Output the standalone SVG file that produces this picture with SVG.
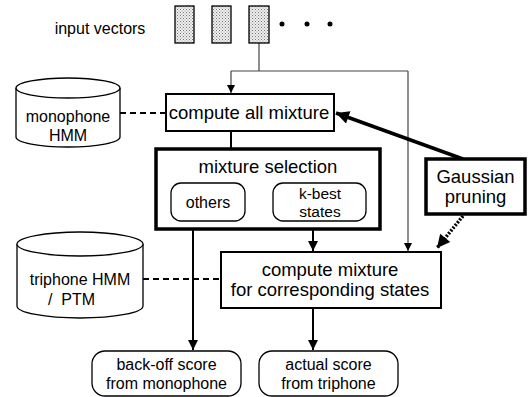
<svg xmlns="http://www.w3.org/2000/svg" width="529" height="397" viewBox="0 0 529 397">
<style>
text{font-family:"Liberation Sans",Arial,sans-serif;fill:#000;text-anchor:middle}
.s16{font-size:16px}
.s15{font-size:15.5px}
.s18{font-size:18.5px}
.box{fill:#fff;stroke:#000;stroke-width:2}
.thick{fill:#fff;stroke:#000;stroke-width:3.5}
.rnd{fill:#fff;stroke:#000;stroke-width:1.3}
.vec{fill:url(#dots);stroke:#000;stroke-width:1.3}
.thin{fill:none;stroke:#444;stroke-width:1.2}
.med{fill:none;stroke:#000;stroke-width:2}
.dash{fill:none;stroke:#000;stroke-width:2;stroke-dasharray:6 4}
.cyl{fill:#fff;stroke:#000;stroke-width:1.3}
</style>
<defs>
<pattern id="dots" width="3" height="3" patternUnits="userSpaceOnUse">
<rect width="3" height="3" fill="#eee"/>
<rect x="0" y="0" width="1" height="1" fill="#777"/>
<rect x="1.5" y="1.5" width="1" height="1" fill="#999"/>
</pattern>
<marker id="ah" viewBox="0 0 10 10" refX="10" refY="5" markerWidth="10" markerHeight="10" markerUnits="userSpaceOnUse" orient="auto">
<path d="M0,0 L10,5 L0,10 z" fill="#000"/>
</marker>
<marker id="ahs" viewBox="0 0 10 10" refX="10" refY="5" markerWidth="8" markerHeight="8" markerUnits="userSpaceOnUse" orient="auto">
<path d="M0,0 L10,5 L0,10 z" fill="#000"/>
</marker>
<marker id="ahb" viewBox="0 0 10 10" refX="10" refY="5" markerWidth="16" markerHeight="13" markerUnits="userSpaceOnUse" orient="auto">
<path d="M0,0 L10,5 L0,10 z" fill="#000"/>
</marker>
</defs>

<g id="connectors">
<path class="thin" d="M259,43 V71 M231,71 H408"/>
<path class="thin" d="M231,71 V93" marker-end="url(#ahs)"/>
<path class="thin" d="M408,71 V251" marker-end="url(#ahs)"/>
<path class="med" d="M231,131 V149"/>
<path class="dash" d="M120,113 H165"/>
<path class="dash" d="M143,279 H221"/>
<path class="med" d="M193,221 V350" marker-end="url(#ah)"/>
<path class="med" d="M313,221 V251" marker-end="url(#ah)"/>
<path class="med" d="M313,308 V350" marker-end="url(#ah)"/>
<path fill="none" stroke="#000" stroke-width="3.5" d="M463,159 L336,113" marker-end="url(#ahb)"/>
<path fill="none" stroke="#000" stroke-width="3.5" stroke-dasharray="2 1.5" d="M463,216 L437,248" marker-end="url(#ahb)"/>
</g>

<g id="input-vectors">
<text class="s16" x="100" y="34">input vectors</text>
<rect class="vec" x="175" y="6" width="19" height="37"/>
<rect class="vec" x="212" y="6" width="19" height="37"/>
<rect class="vec" x="249" y="6" width="20" height="37"/>
<circle cx="282" cy="24" r="2.5"/>
<circle cx="307" cy="24" r="2.5"/>
<circle cx="330" cy="24" r="2.5"/>
</g>

<g id="monophone-hmm">
<path class="cyl" d="M16,88 V137 A52,10 0 0 0 120,137 V88"/>
<ellipse class="cyl" cx="68" cy="88" rx="52" ry="10"/>
<text class="s16" x="68" y="122">monophone</text>
<text class="s16" x="68" y="141">HMM</text>
</g>

<g id="compute-all-mixture">
<rect class="box" x="166" y="94" width="168" height="37"/>
<text class="s18" x="249" y="119">compute all mixture</text>
</g>

<g id="mixture-selection">
<rect class="thick" x="156" y="149" width="224" height="80"/>
<text class="s18" x="268" y="173">mixture selection</text>
</g>

<g id="others">
<rect class="rnd" x="171" y="183" width="74" height="38" rx="10"/>
<text class="s16" x="208" y="208">others</text>
</g>

<g id="k-best-states">
<rect class="rnd" x="273" y="183" width="93" height="38" rx="10"/>
<text class="s15" x="320" y="199">k-best</text>
<text class="s15" x="320" y="216.5">states</text>
</g>

<g id="gaussian-pruning">
<rect class="thick" x="426" y="159" width="99" height="55"/>
<text class="s18" x="475.5" y="183">Gaussian</text>
<text class="s18" x="475.5" y="203">pruning</text>
</g>

<g id="triphone-hmm">
<path class="cyl" d="M17,244 V306 A63,12 0 0 0 143,306 V244"/>
<ellipse class="cyl" cx="80" cy="244" rx="63" ry="12"/>
<text class="s16" x="80" y="285">triphone HMM</text>
<text class="s16" x="48" y="305" style="text-anchor:start;white-space:pre">/  PTM</text>
</g>

<g id="compute-mixture">
<rect class="box" x="221" y="252" width="220" height="56"/>
<text class="s18" x="330" y="276">compute mixture</text>
<text class="s18" x="330" y="296">for corresponding states</text>
</g>

<g id="back-off-score">
<rect class="rnd" x="92" y="351" width="149" height="45" rx="13"/>
<text class="s16" x="166.5" y="370">back-off score</text>
<text class="s16" x="166.5" y="389">from monophone</text>
</g>

<g id="actual-score">
<rect class="rnd" x="259" y="351" width="139" height="45" rx="13"/>
<text class="s16" x="328.5" y="370">actual score</text>
<text class="s16" x="328.5" y="389">from triphone</text>
</g>
</svg>
